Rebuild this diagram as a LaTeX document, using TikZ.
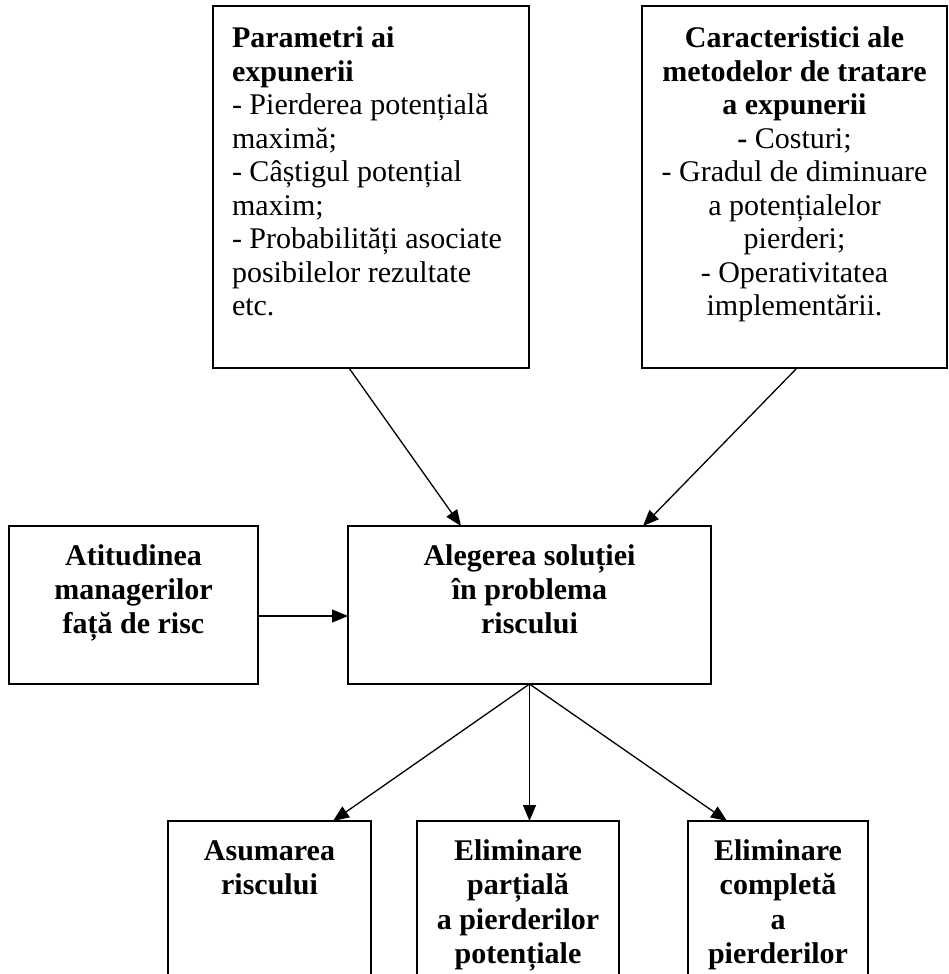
\documentclass[tikz,border=0pt]{standalone}
\usepackage{fontspec}
\setmainfont{Liberation Serif}
\usetikzlibrary{arrows.meta,calc}
\begin{document}
\begin{tikzpicture}[x=1pt,y=-1pt,
  box/.style={draw, line width=1.5pt, inner sep=0pt, outer sep=0pt, anchor=north west},
  txt/.style={inner sep=0pt, outer sep=0pt, anchor=base, align=flush center,
    font=\fontsize{30}{34}\selectfont\bfseries},
  toptxt/.style={inner sep=0pt, outer sep=0pt, anchor=base,
    font=\fontsize{30}{33.5}\selectfont},
  arr/.style={line width=1.3pt, -{Triangle[length=16pt,width=13pt]}}]
\clip (0,0) rectangle (948,974);
\fill[white] (0,0) rectangle (948,974);

% boxes
\node[box, minimum width=316pt, minimum height=362pt] (P) at (213,6) {};
\node[box, minimum width=305pt, minimum height=362pt] (C) at (642,6) {};
\node[box, minimum width=249pt, minimum height=158pt] (A) at (9,526) {};
\node[box, minimum width=363pt, minimum height=158pt] (S) at (348,526) {};
\node[box, minimum width=203pt, minimum height=190pt] (B1) at (168,821) {};
\node[box, minimum width=202pt, minimum height=190pt] (B2) at (417,821) {};
\node[box, minimum width=180pt, minimum height=190pt] (B3) at (688,821) {};

% texts
\node[toptxt, text width=296pt, align=flush left] (Pt) at (380,48)
  {\textbf{Parametri ai}\\
   \textbf{expunerii}\\
   - Pierderea potențială\\
   maximă;\\
   - Câștigul potențial\\
   maxim;\\
   - Probabilități asociate\\
   posibilelor rezultate\\
   etc.};
\node[toptxt, text width=300pt, align=flush center] (Ct) at (794.5,48)
  {\textbf{Caracteristici ale}\\
   \textbf{metodelor de tratare}\\
   \textbf{a expunerii}\\
   \textbf{-} Costuri;\\
   - Gradul de diminuare\\
   a potențialelor\\
   pierderi;\\
   - Operativitatea\\
   implementării.};
\node[txt, text width=240pt] (At) at (133.5,565)
  {Atitudinea\\managerilor\\față de risc};
\node[txt, text width=350pt] (St) at (529.5,565)
  {Alegerea soluției\\în problema\\riscului};
\node[txt, text width=195pt, font=\fontsize{30}{34.5}\selectfont\bfseries] (B1t) at (269.5,860)
  {Asumarea\\riscului};
\node[txt, text width=195pt, font=\fontsize{30}{34.5}\selectfont\bfseries] (B2t) at (518,860)
  {Eliminare\\parțială\\a pierderilor\\potențiale};
\node[txt, text width=175pt, font=\fontsize{30}{34.5}\selectfont\bfseries] (B3t) at (778,860)
  {Eliminare\\completă\\a\\pierderilor};

% connectors
\draw[arr] ([xshift=136pt]P.south west) -- ([xshift=113pt]S.north west);
\draw[arr] ([xshift=155pt]C.south west) -- ([xshift=295pt]S.north west);
\draw[arr] ([yshift=-11pt]A.east) -- ([yshift=-11pt]S.west);
\draw[arr] (S.south) -- ([xshift=165pt]B1.north west);
\draw[arr] (S.south) -- ([xshift=112.5pt]B2.north west);
\draw[arr] (S.south) -- ([xshift=39pt]B3.north west);
\end{tikzpicture}
\end{document}
